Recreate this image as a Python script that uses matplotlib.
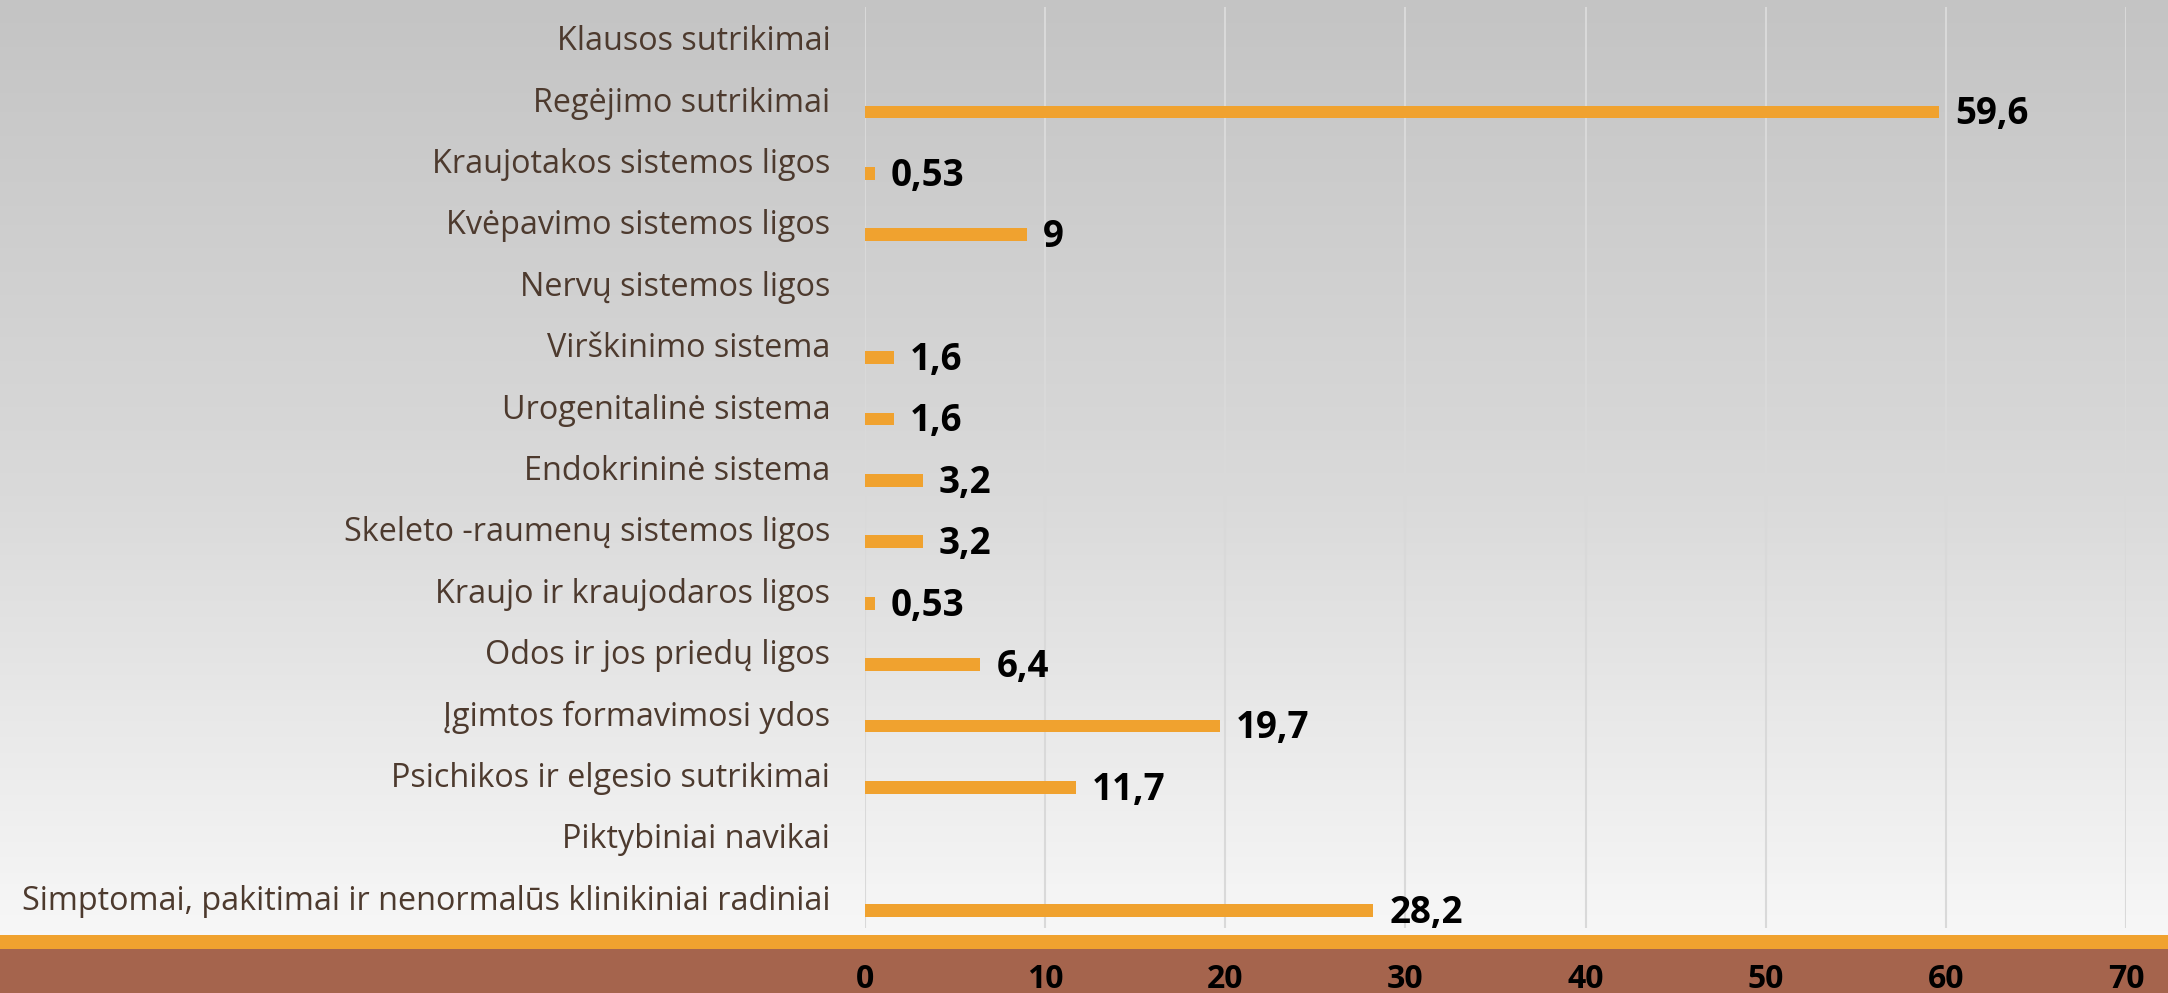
import numpy as np
import matplotlib
matplotlib.use("Agg")
import matplotlib.pyplot as plt
from matplotlib.patches import Rectangle
from matplotlib.colors import LinearSegmentedColormap

# top to bottom, as drawn in the chart
categories = ["Klausos sutrikimai", "Regėjimo sutrikimai", "Kraujotakos sistemos ligos",
              "Kvėpavimo sistemos ligos", "Nervų sistemos ligos", "Virškinimo sistema",
              "Urogenitalinė sistema", "Endokrininė sistema", "Skeleto -raumenų sistemos ligos",
              "Kraujo ir kraujodaros ligos", "Odos ir jos priedų ligos", "Įgimtos formavimosi ydos",
              "Psichikos ir elgesio sutrikimai", "Piktybiniai navikai",
              "Simptomai, pakitimai ir nenormalūs klinikiniai radiniai"]
values = [0, 59.6, 0.53, 9, 0, 1.6, 1.6, 3.2, 3.2, 0.53, 6.4, 19.7, 11.7, 0, 28.2]
value_labels = ["", "59,6", "0,53", "9", "", "1,6", "1,6", "3,2", "3,2", "0,53",
                "6,4", "19,7", "11,7", "", "28,2"]
xticks = [0, 10, 20, 30, 40, 50, 60, 70]

ORANGE = "#f0a22f"
BROWN = "#a5644d"
TEXT = "#4d3a2e"

W, H = 2168, 993
fig = plt.figure(figsize=(W / 100, H / 100), dpi=100)

# gray gradient background
bg = fig.add_axes([0, 0, 1, 1], zorder=-5)
grad = np.linspace(0, 1, 256).reshape(-1, 1)
cmap = LinearSegmentedColormap.from_list("bg", ["#c4c4c4", "#dadada", "#fbfbfb"])
bg.imshow(grad, aspect="auto", cmap=cmap, extent=[0, 1, 0, 1])
bg.axis("off")

# bottom bands
fig.patches.append(Rectangle((0, 0), 1, (H - 949) / H, transform=fig.transFigure,
                             facecolor=BROWN, edgecolor="none", zorder=-4))
fig.patches.append(Rectangle(((0, (H - 949) / H)), 1, 14 / H, transform=fig.transFigure,
                             facecolor=ORANGE, edgecolor="none", zorder=-4))

left, right, top, bottom = 865, 2126, 7, 928
ax = fig.add_axes([left / W, (H - bottom) / H, (right - left) / W, (bottom - top) / H])
ax.patch.set_alpha(0)

n = len(categories)
y = np.arange(n)
ax.barh(y + 0.21, values, height=0.21, color=ORANGE, zorder=3)
for yi, v, lab in zip(y, values, value_labels):
    if lab:
        ax.text(v + 0.9, yi + 0.25, lab, fontsize=26.5, fontweight="bold",
                family="Open Sans", color="black", va="center", ha="left")

ax.set_xlim(0, 70)
ax.set_ylim(n - 0.5, -0.5)
ax.set_xticks(xticks)
ax.set_xticklabels([str(t) for t in xticks], fontsize=23, fontweight="bold",
                   family="Open Sans", color="black")
ax.set_yticks(y)
ax.set_yticklabels(categories, fontsize=23.3, family="Open Sans", color=TEXT)
ax.tick_params(axis="x", length=0, pad=25)
ax.tick_params(axis="y", length=0, pad=25)
ax.grid(axis="x", color="#d9d9d9", linewidth=1.5, zorder=0)
ax.set_axisbelow(True)
for s in ax.spines.values():
    s.set_visible(False)

fig.savefig("out.png", dpi=100)
